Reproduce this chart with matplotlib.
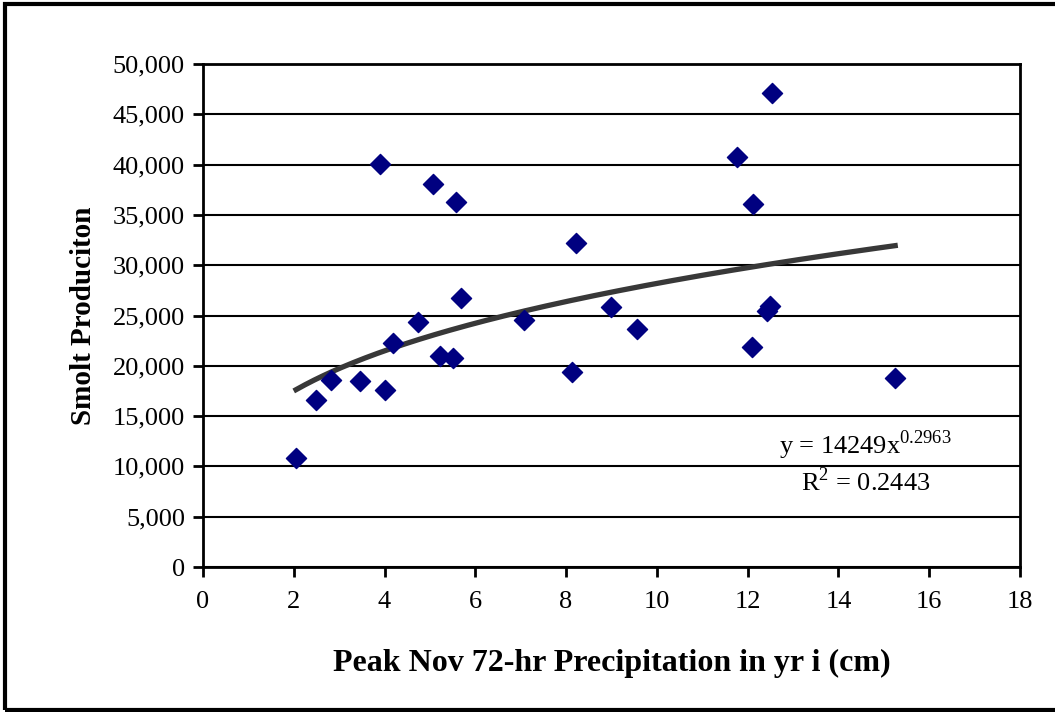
import numpy as np
import matplotlib.pyplot as plt
from matplotlib.patches import Rectangle
from matplotlib.ticker import FuncFormatter

# peak Nov 72-hr precipitation (cm) and smolt production
precip = [2.05, 2.48, 2.81, 3.45, 4.00, 3.91, 4.18, 4.74, 5.07, 5.22,
          5.51, 5.58, 5.68, 7.08, 8.13, 8.22, 8.99, 9.57, 11.76, 12.53,
          12.11, 12.49, 12.42, 12.10, 15.25]
smolts = [10870, 16600, 18590, 18490, 17600, 40060, 22240, 24390, 38070, 20980,
          20810, 36320, 26740, 24550, 19420, 32240, 25880, 23630, 40790, 47090,
          36050, 25940, 25480, 21840, 18760]

# power trend line y = a * x^b
coef_a = 14249
coef_b = 0.2963
r2 = 0.2443

plt.rcParams['font.family'] = ['Liberation Serif', 'DejaVu Serif']

fig = plt.figure(figsize=(10.55, 7.12), dpi=100)
ax = fig.add_axes([203 / 1055, 1 - 567 / 712, 817 / 1055, 503 / 712])

# outer frame (right side falls off the picture)
fig.patches.append(Rectangle((5 / 1055, 2 / 712), 1.1, 706 / 712,
                             transform=fig.transFigure, fill=False,
                             edgecolor='black', linewidth=3, clip_on=False))

ax.scatter(precip, smolts, marker='D', s=105, color='#000080', zorder=3)

xs = np.linspace(min(precip), max(precip), 200)
ax.plot(xs, coef_a * xs ** coef_b, color='#383838', lw=3.8, zorder=2)

ax.set_xlim(0, 18)
ax.set_ylim(0, 50000)
ax.set_xticks(range(0, 19, 2))
ax.set_yticks(range(0, 50001, 5000))
ax.yaxis.set_major_formatter(FuncFormatter(lambda v, p: f'{int(v):,}'))
ax.grid(axis='y', color='black', lw=1.5)
ax.set_axisbelow(True)
for s in ax.spines.values():
    s.set_linewidth(2)
ax.tick_params(direction='out', length=7, width=2, labelsize=19, pad=6)
ax.tick_params(axis='x', pad=10)

ax.set_xlabel('Peak Nov 72-hr Precipitation in yr i (cm)', fontsize=23,
              fontweight='bold', labelpad=26)
ax.set_ylabel('Smolt Produciton', fontsize=21, fontweight='bold', labelpad=11)

ax.text(14.6, 12100, r'y = 14249x$^{\mathregular{0.2963}}$', fontsize=19,
        ha='center', va='center')
ax.text(14.6, 8500, r'R$^{\mathregular{2}}$ = 0.2443', fontsize=19,
        ha='center', va='center')

fig.savefig('out.png', dpi=100)
